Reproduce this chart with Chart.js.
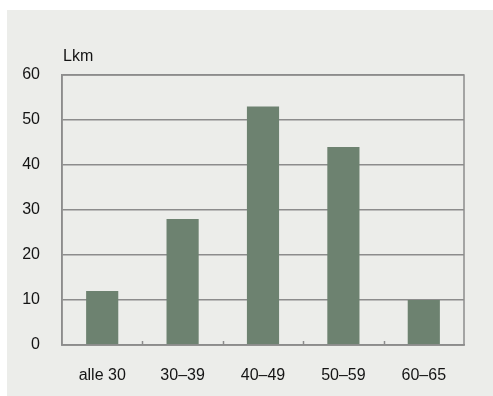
<!DOCTYPE html>
<html>
<head>
<meta charset="utf-8">
<script src="https://cdn.jsdelivr.net/npm/chart.js@4"></script>
<style>
  html, body { margin: 0; padding: 0; background: #ffffff; }
  #wrap { width: 493px; height: 396px; }
</style>
</head>
<body>
<div id="wrap"><canvas id="c" width="493" height="396"></canvas></div>
<script>
const categories = ['alle 30', '30\u201339', '40\u201349', '50\u201359', '60\u201365'];
const values = [12, 28, 53, 44, 10];
const yTicks = [0, 10, 20, 30, 40, 50, 60];
const unitLabel = 'Lkm';

const FONT = '"Liberation Sans", Arial, sans-serif';
const GRID = '#8c8c8c';
const TEXT = '#141414';

// Light panel behind the chart, frame around the plot, unit label and inner category ticks
const decor = {
  id: 'decor',
  beforeDraw(chart) {
    const ctx = chart.ctx;
    ctx.save();
    ctx.fillStyle = '#ecedea';
    ctx.fillRect(7, 10, 486, 386);
    ctx.restore();
  },
  afterDraw(chart) {
    const ctx = chart.ctx;
    const a = chart.chartArea;
    const xs = chart.scales.x;
    ctx.save();
    ctx.strokeStyle = GRID;
    ctx.lineWidth = 1.5;
    ctx.strokeRect(a.left, a.top, a.right - a.left, a.bottom - a.top);
    // small ticks between categories, pointing into the plot
    const step = (xs.getPixelForTick(1) - xs.getPixelForTick(0));
    for (let i = 0; i < categories.length - 1; i++) {
      const x = Math.round(xs.getPixelForTick(i) + step / 2) + 0.5;
      ctx.beginPath();
      ctx.moveTo(x, a.bottom);
      ctx.lineTo(x, a.bottom - 4);
      ctx.stroke();
    }
    ctx.fillStyle = TEXT;
    ctx.font = '16px ' + FONT;
    ctx.textBaseline = 'middle';
    ctx.textAlign = 'left';
    ctx.fillText(unitLabel, a.left + 1, 57);
    ctx.restore();
  }
};

new Chart(document.getElementById('c'), {
  type: 'bar',
  data: {
    labels: categories,
    datasets: [{
      data: values,
      backgroundColor: '#6d8270',
      borderWidth: 0,
      categoryPercentage: 0.8,
      barPercentage: 0.5
    }]
  },
  options: {
    responsive: false,
    animation: false,
    layout: { padding: { top: 75, right: 29, left: 0, bottom: 0 } },
    plugins: { legend: { display: false }, tooltip: { enabled: false } },
    scales: {
      x: {
        grid: { display: false, drawTicks: false },
        border: { display: true, color: GRID, width: 1.5 },
        ticks: { color: TEXT, font: { family: FONT, size: 16 }, padding: 21, maxRotation: 0 },
        afterFit(s) { s.height = 51; }
      },
      y: {
        min: 0, max: 60,
        afterBuildTicks(s) { s.ticks = yTicks.map(v => ({ value: v })); },
        grid: { color: GRID, lineWidth: 1.5, drawTicks: false },
        border: { display: true, color: GRID, width: 1.5 },
        ticks: { color: TEXT, font: { family: FONT, size: 16 }, padding: 22 },
        afterFit(s) { s.width = 62; }
      }
    }
  },
  plugins: [decor]
});
</script>
</body>
</html>
